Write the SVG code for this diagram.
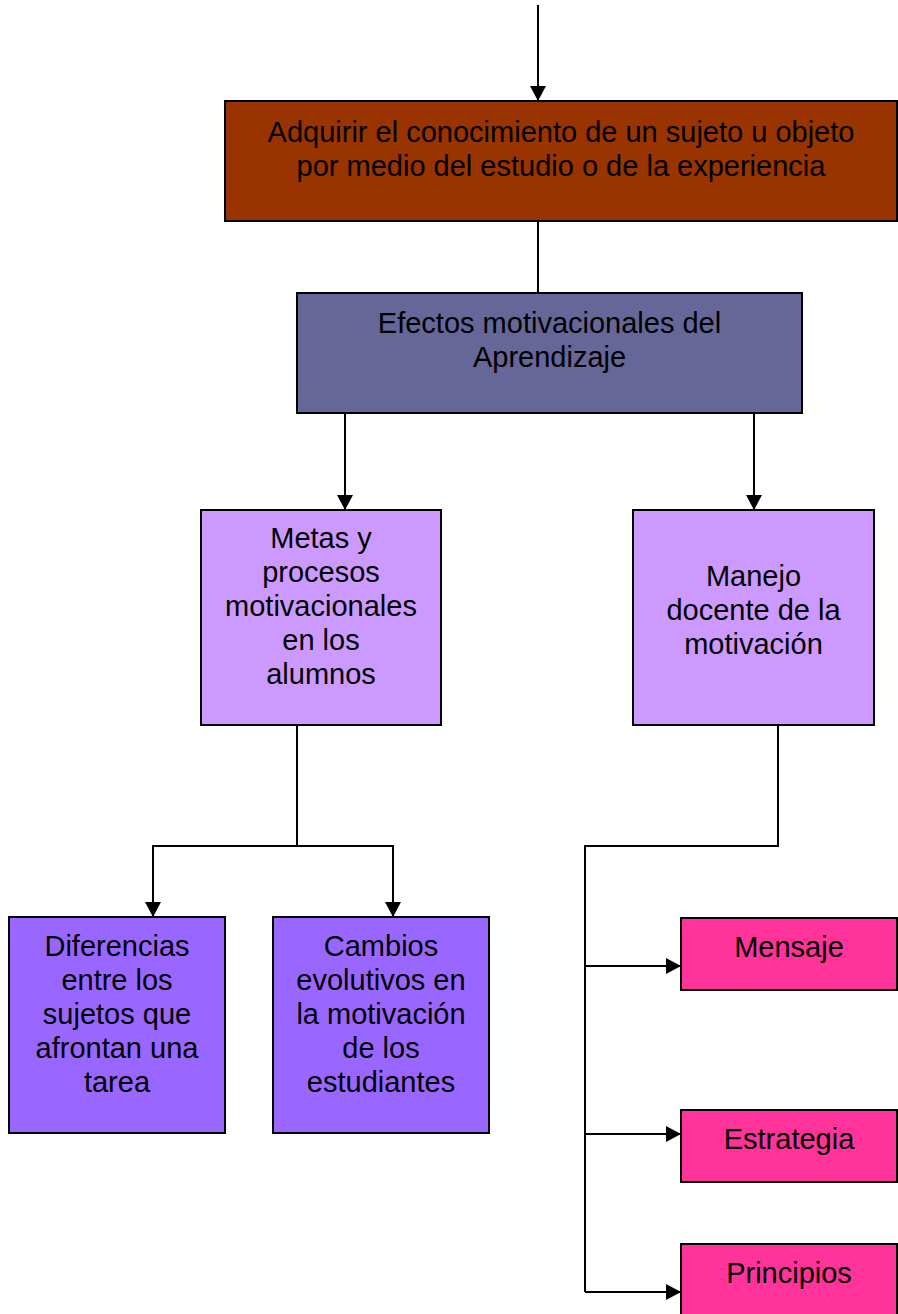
<svg xmlns="http://www.w3.org/2000/svg" width="898" height="1314" viewBox="0 0 898 1314">
<defs>
<marker id="arr" markerWidth="15" markerHeight="16" refX="15" refY="8" orient="auto" markerUnits="userSpaceOnUse">
<path d="M0,0 L15,8 L0,16 Z" fill="#000"/>
</marker>
<style>
.box{stroke:#000;stroke-width:2}
.t{font-family:"Liberation Sans",Arial,sans-serif;font-size:29px;fill:#000;text-anchor:middle}
.c{fill:none;stroke:#000;stroke-width:2}
</style>
</defs>
<rect width="898" height="1314" fill="#fff"/>
<g id="connectors">
<line class="c" x1="538" y1="5" x2="538" y2="101" marker-end="url(#arr)"/>
<line class="c" x1="538" y1="221" x2="538" y2="293"/>
<line class="c" x1="345" y1="413" x2="345" y2="510" marker-end="url(#arr)"/>
<line class="c" x1="754" y1="413" x2="754" y2="510" marker-end="url(#arr)"/>
<polyline class="c" points="297,725 297,846"/>
<polyline class="c" points="153,917 153,846 393,846 393,917"/>
<line class="c" x1="153" y1="900" x2="153" y2="917" marker-end="url(#arr)"/>
<line class="c" x1="393" y1="900" x2="393" y2="917" marker-end="url(#arr)"/>
<polyline class="c" points="778,725 778,846 585,846 585,1292"/>
<line class="c" x1="585" y1="966" x2="681" y2="966" marker-end="url(#arr)"/>
<line class="c" x1="585" y1="1134" x2="681" y2="1134" marker-end="url(#arr)"/>
<line class="c" x1="585" y1="1292" x2="681" y2="1292" marker-end="url(#arr)"/>
</g>
<g id="adquirir">
<rect class="box" x="225" y="101" width="672" height="120" fill="#993300"/>
<text class="t" x="561" y="142">Adquirir el conocimiento de un sujeto u objeto</text>
<text class="t" x="561" y="176">por medio del estudio o de la experiencia</text>
</g>
<g id="efectos">
<rect class="box" x="297" y="293" width="505" height="120" fill="#666699"/>
<text class="t" x="549.5" y="333">Efectos motivacionales del</text>
<text class="t" x="549.5" y="367">Aprendizaje</text>
</g>
<g id="metas">
<rect class="box" x="201" y="510" width="240" height="215" fill="#CC99FF"/>
<text class="t" x="321" y="548">Metas y</text>
<text class="t" x="321" y="582">procesos</text>
<text class="t" x="321" y="616">motivacionales</text>
<text class="t" x="321" y="650">en los</text>
<text class="t" x="321" y="684">alumnos</text>
</g>
<g id="manejo">
<rect class="box" x="633" y="510" width="241" height="215" fill="#CC99FF"/>
<text class="t" x="753.5" y="586">Manejo</text>
<text class="t" x="753.5" y="620">docente de la</text>
<text class="t" x="753.5" y="654">motivación</text>
</g>
<g id="diferencias">
<rect class="box" x="9" y="917" width="216" height="216" fill="#9966FF"/>
<text class="t" x="117" y="956">Diferencias</text>
<text class="t" x="117" y="990">entre los</text>
<text class="t" x="117" y="1024">sujetos que</text>
<text class="t" x="117" y="1058">afrontan una</text>
<text class="t" x="117" y="1092">tarea</text>
</g>
<g id="cambios">
<rect class="box" x="273" y="917" width="216" height="216" fill="#9966FF"/>
<text class="t" x="381" y="956">Cambios</text>
<text class="t" x="381" y="990">evolutivos en</text>
<text class="t" x="381" y="1024">la motivación</text>
<text class="t" x="381" y="1058">de los</text>
<text class="t" x="381" y="1092">estudiantes</text>
</g>
<g id="mensaje">
<rect class="box" x="681" y="918" width="216" height="72" fill="#FF3399"/>
<text class="t" x="789" y="957">Mensaje</text>
</g>
<g id="estrategia">
<rect class="box" x="681" y="1110" width="216" height="72" fill="#FF3399"/>
<text class="t" x="789" y="1149">Estrategia</text>
</g>
<g id="principios">
<rect class="box" x="681" y="1244" width="216" height="80" fill="#FF3399"/>
<text class="t" x="789" y="1283">Principios</text>
</g>
</svg>
